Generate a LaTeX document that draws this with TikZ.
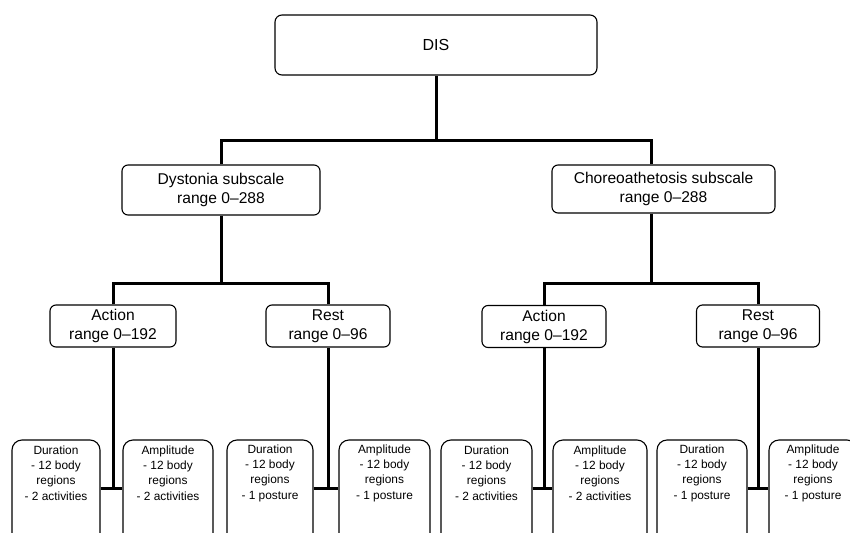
\documentclass[tikz,border=0pt]{standalone}
\usepackage{fontspec}
\setmainfont{Liberation Sans}
\begin{document}
\begin{tikzpicture}[x=1pt,y=-1pt,
  box/.style={draw=black,line width=1.1pt,rounded corners=6pt,fill=white,align=center,inner sep=0pt,
     font=\fontsize{15.6}{19}\selectfont},
  botbox/.style={draw=black,line width=1.1pt,rounded corners=10pt,fill=white,inner sep=0pt,minimum height=120pt},
  bottxt/.style={align=center,inner sep=0pt,font=\fontsize{11.9}{15.3}\selectfont},
  conn/.style={line width=3pt,draw=black}]
\clip (0,0) rectangle (850,532);
\fill[white] (0,0) rectangle (850,532);
% junction points
\coordinate (t0) at (436,140);
\coordinate (tl) at (221,283);
\coordinate (tr) at (651,283);
\coordinate (k1) at (113,488);
\coordinate (k2) at (328,488);
\coordinate (k3) at (544,488);
\coordinate (k4) at (758,488);
% nodes
\node[box,rounded corners=7pt,minimum width=322pt,minimum height=60pt,font=\fontsize{16}{19}\selectfont] (dis) at (436,45) {DIS};
\node[box,minimum width=198pt,minimum height=50pt] (dys) at (221,190) {Dystonia subscale\\range 0--288};
\node[box,minimum width=223pt,minimum height=48pt] (cho) at (663.5,189) {Choreoathetosis subscale\\range 0--288};
\node[box,minimum width=126pt,minimum height=42pt] (act1) at (113,326) {Action\\range 0--192};
\node[box,minimum width=124pt,minimum height=42pt] (rest1) at (328,326) {Rest\\range 0--96};
\node[box,minimum width=124pt,minimum height=42pt] (act2) at (544,326.5) {Action\\range 0--192};
\node[box,minimum width=123pt,minimum height=42pt] (rest2) at (758,326) {Rest\\range 0--96};
% bottom boxes
\node[botbox,minimum width=88pt] (d1) at (56,500) {};
\node[botbox,minimum width=90pt] (a1) at (168,500) {};
\node[botbox,minimum width=86pt] (d2) at (270,500) {};
\node[botbox,minimum width=91pt] (a2) at (384.5,500) {};
\node[botbox,minimum width=91pt] (d3) at (486.5,500) {};
\node[botbox,minimum width=94pt] (a3) at (600,500) {};
\node[botbox,minimum width=90pt] (d4) at (702,500) {};
\node[botbox,minimum width=88pt] (a4) at (813,500) {};
\node[bottxt] (d1t) at (56,473) {Duration\\- 12 body\\regions\\- 2 activities};
\node[bottxt] (a1t) at (168,473) {Amplitude\\- 12 body\\regions\\- 2 activities};
\node[bottxt] (d2t) at (270,473) {Duration\\- 12 body\\regions\\- 1 posture};
\node[bottxt] (a2t) at (384.5,473) {Amplitude\\- 12 body\\regions\\- 1 posture};
\node[bottxt] (d3t) at (486.5,473) {Duration\\- 12 body\\regions\\- 2 activities};
\node[bottxt] (a3t) at (600,473) {Amplitude\\- 12 body\\regions\\- 2 activities};
\node[bottxt] (d4t) at (702,473) {Duration\\- 12 body\\regions\\- 1 posture};
\node[bottxt] (a4t) at (813,473) {Amplitude\\- 12 body\\regions\\- 1 posture};
% connectors
\draw[conn] (dis.south) -- (t0);
\draw[conn] (dys.north) |- (t0);
\draw[conn] ([xshift=-12.5pt]cho.north) |- (t0);
\draw[conn] (dys.south) -- (tl);
\draw[conn] (act1.north) |- (tl);
\draw[conn] (rest1.north) |- (tl);
\draw[conn] ([xshift=-12.5pt]cho.south) -- (tr);
\draw[conn] (act2.north) |- (tr);
\draw[conn] (rest2.north) |- (tr);
\draw[conn] (act1.south) -- (k1);
\draw[conn] (rest1.south) -- (k2);
\draw[conn] (act2.south) -- (k3);
\draw[conn] (rest2.south) -- (k4);
\draw[conn] (d1.east |- k1) -- (a1.west |- k1);
\draw[conn] (d2.east |- k2) -- (a2.west |- k2);
\draw[conn] (d3.east |- k3) -- (a3.west |- k3);
\draw[conn] (d4.east |- k4) -- (a4.west |- k4);
\end{tikzpicture}
\end{document}
